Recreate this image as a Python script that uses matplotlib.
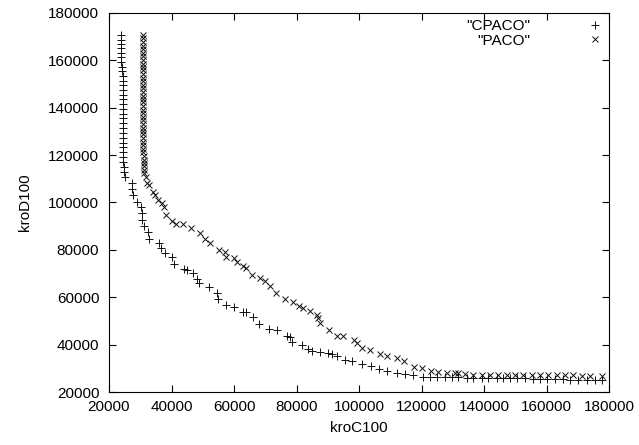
import matplotlib
matplotlib.use("Agg")
import matplotlib.pyplot as plt

plt.rcParams['font.family'] = ['Liberation Sans', 'DejaVu Sans']

# ---- data ----
cpaco_x = [23700, 23700, 23700, 23700, 23700, 23800, 23900, 24200, 24300, 24400,
           24400, 24500, 24500, 24500, 24600, 24600, 24600, 24600, 24600, 24600,
           24600, 24600, 24600, 24600, 24600, 24600, 24600, 24600, 24700, 24900,
           25100,
           27300, 27500, 27800, 29100, 30100, 30500, 30500, 31100, 32600, 32800,
           35900, 36700, 37900, 40200, 40700, 44000, 45000, 46800, 48100, 48900,
           52100, 54700, 55000, 57400, 60000, 63000, 63700, 66000, 68000, 71300,
           73700, 76900, 77900, 78500, 81700, 83800, 85100, 87500, 90200, 91300,
           92900, 95500, 97900, 100900, 103800, 106400, 109100, 112000, 114700, 117400,
           120400, 122700, 125100, 127500, 129700, 131800, 134500, 136600, 139300, 141400,
           144100, 146200, 148300, 150500, 153100, 155800, 157900, 160100, 162700, 165400,
           167500, 170200, 172900, 175500, 177700]
cpaco_y = [170700, 168800, 166900, 165200, 163300, 161400, 159500, 157400, 155500, 153400,
           151500, 149600, 147500, 145400, 143500, 141600, 139500, 137400, 135500, 133600,
           131400, 129300, 127200, 125300, 123400, 121300, 119200, 117100, 115000, 113000,
           110900,
           108100, 105600, 103200, 100300, 98200, 95400, 92600, 89900, 87500, 84500,
           82900, 80800, 78500, 76900, 74000, 72100, 71500, 70400, 67500, 65900,
           64200, 61700, 59100, 56700, 56000, 53900, 53900, 51500, 48700, 46500,
           46200, 43600, 43300, 41200, 40000, 38100, 37300, 37000, 36500, 35900,
           35200, 33600, 33000, 31700, 30800, 29700, 29000, 28200, 27400, 27200,
           26500, 26400, 26300, 26300, 26200, 26200, 26100, 26100, 26000, 26000,
           25900, 25900, 25800, 25800, 25700, 25300, 25400, 25300, 25300, 25300,
           25200, 25200, 25200, 25100, 25100]

paco_x = [31000, 31000, 31000, 31000, 31000, 31000, 31000, 31000, 31000, 31000,
          31000, 31000, 31000, 31000, 31000, 31000, 31000, 31000, 31000, 31000,
          31000, 31000, 31000, 31000, 31000, 31000, 31000, 31000, 31000, 31000,
          31000, 31000, 31000, 31000, 31100, 31100, 31100, 31200, 31200, 31300,
          31800,
          32100, 32900, 34200, 34700, 35800, 36900, 37600, 38200, 40200, 41300,
          43800, 46300, 49100, 50700, 52200, 55100, 57000, 57400, 60000, 61100,
          62900, 63800, 65700, 68300, 69800, 71500, 73400, 76300, 79000, 80800,
          82000, 84300, 86500, 87000, 87500, 90400, 92900, 95000, 98400, 99500,
          100900, 103500, 106700, 109100, 112100, 114300, 117500, 120200, 122900, 125400,
          128100, 130700, 131800, 133900,
          136600, 139300, 141900, 144600, 147300, 149900, 152600, 155300, 157900, 160600,
          163300, 165900, 168600, 171300, 173900, 177700]
paco_y = [170700, 169300, 167600, 166200, 164800, 163100, 161700, 160300, 158600, 157200,
          155800, 154100, 152700, 151300, 149600, 148200, 146800, 145100, 143700, 142300,
          140600, 139200, 137800, 136100, 134700, 133300, 131600, 130200, 128800, 127100,
          125700, 124300, 122600, 121200, 119800, 118100, 116700, 115300, 113700, 112300,
          110900,
          108100, 107400, 104600, 103200, 101100, 99700, 97900, 94900, 92200, 91000,
          90900, 89300, 87300, 84700, 83000, 79900, 79200, 77100, 76600, 75000,
          73200, 72200, 69400, 68000, 66800, 64700, 61700, 59100, 58100, 56500,
          55300, 54000, 52500, 51100, 49300, 46200, 43800, 43500, 41900, 40500,
          38400, 37700, 36000, 35200, 34200, 33100, 30700, 30000, 29000, 28600,
          28100, 28100, 27900, 27600,
          27300, 27300, 27200, 27200, 27200, 27100, 27100, 27100, 27000, 27000,
          27000, 27000, 27000, 26900, 26900, 26900]

x_ticks = [20000, 40000, 60000, 80000, 100000, 120000, 140000, 160000, 180000]
y_ticks = [20000, 40000, 60000, 80000, 100000, 120000, 140000, 160000, 180000]

W, H = 639, 445
fig = plt.figure(figsize=(W / 100, H / 100), dpi=100)
ax = fig.add_axes([109 / W, 53 / H, 500 / W, 379 / H])

ax.plot(cpaco_x, cpaco_y, linestyle='none', marker='+', markersize=5.2,
        markeredgewidth=0.7, color='#111111', label='"CPACO"')
ax.plot(paco_x, paco_y, linestyle='none', marker='x', markersize=4.2,
        markeredgewidth=0.7, color='#111111', label='"PACO"')

ax.set_xlim(20000, 180000)
ax.set_ylim(20000, 180000)
ax.set_xticks(x_ticks)
ax.set_yticks(y_ticks)
ax.set_xticklabels([str(v) for v in x_ticks])
ax.set_yticklabels([str(v) for v in y_ticks])
ax.tick_params(direction='in', length=5, width=0.8, top=True, right=True,
               labelsize=11)
ax.tick_params(axis='x', pad=6)
ax.tick_params(axis='y', pad=7)
for s in ax.spines.values():
    s.set_linewidth(0.8)

ax.set_xlabel('kroC100', fontsize=11, labelpad=5)
ax.set_ylabel('kroD100', fontsize=11, labelpad=12)

leg = ax.legend(loc='upper right', bbox_to_anchor=(610 / W, 1 - 19 / H),
                bbox_transform=fig.transFigure, frameon=False, fontsize=11,
                markerfirst=False, handlelength=2.0, handletextpad=3.2,
                borderpad=0.0, borderaxespad=0.0, labelspacing=0.05)
for t in leg.get_texts():
    t.set_ha('right')

fig.savefig('out.png', dpi=100)
